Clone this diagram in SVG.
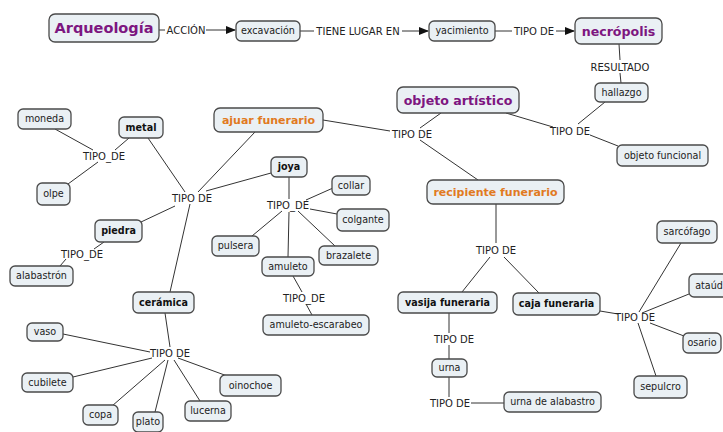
<svg xmlns="http://www.w3.org/2000/svg" width="723" height="432" viewBox="0 0 723 432">
<defs>
<marker id="arr" markerWidth="10" markerHeight="8" refX="9" refY="4" orient="auto" markerUnits="userSpaceOnUse">
<path d="M0,0 L10,4 L0,8 Z" fill="#111"/>
</marker>
<style>
.n rect{fill:#eaf0f4;stroke:#4a4a4a;stroke-width:1.3}
.n text{font-family:"DejaVu Sans",Verdana,sans-serif;font-size:9.6px;fill:#222;text-anchor:middle}
.n text.b{font-weight:bold;fill:#111}
.n text.p{font-weight:bold;fill:#7d1680;font-size:12.6px}
.n text.o{font-weight:bold;fill:#e17a1f;font-size:11px}
.c line{stroke:#333;stroke-width:1}
.c text{font-family:"DejaVu Sans",Verdana,sans-serif;font-size:10px;fill:#222;text-anchor:middle}
</style>
</defs>
<rect width="723" height="432" fill="#fff"/>
<g class="c" id="connectors">
<line x1="159" y1="30" x2="165" y2="30"/><line x1="206" y1="30" x2="235" y2="30" marker-end="url(#arr)"/>
<line x1="300" y1="31" x2="314" y2="31"/><line x1="402" y1="31" x2="428" y2="31" marker-end="url(#arr)"/>
<line x1="495" y1="31" x2="512" y2="31"/><line x1="556" y1="31" x2="574" y2="31" marker-end="url(#arr)"/>
<line x1="619" y1="44" x2="620" y2="60"/><line x1="620" y1="73" x2="621" y2="83"/>
<line x1="605" y1="102" x2="578" y2="124"/>
<line x1="506" y1="113" x2="553" y2="127"/>
<line x1="590" y1="135" x2="618" y2="146"/>
<line x1="323" y1="120" x2="390" y2="131"/>
<line x1="441" y1="113" x2="420" y2="128"/>
<line x1="420" y1="140" x2="478" y2="180"/>
<line x1="496" y1="204" x2="496" y2="243"/>
<line x1="490" y1="257" x2="462" y2="292"/>
<line x1="504" y1="257" x2="539" y2="293"/>
<line x1="449" y1="313" x2="449" y2="333"/>
<line x1="449" y1="345" x2="449" y2="359"/>
<line x1="449" y1="377" x2="449" y2="397"/>
<line x1="471" y1="403" x2="504" y2="403"/>
<line x1="600" y1="311" x2="618" y2="314"/>
<line x1="639" y1="312" x2="681" y2="243"/>
<line x1="642" y1="313" x2="689" y2="294"/>
<line x1="650" y1="323" x2="684" y2="336"/>
<line x1="638" y1="323" x2="656" y2="376"/>
<line x1="55" y1="129" x2="93" y2="150"/>
<line x1="129" y1="138" x2="115" y2="150"/>
<line x1="98" y1="162" x2="68" y2="184"/>
<line x1="148" y1="138" x2="185" y2="192"/>
<line x1="255" y1="132" x2="198" y2="192"/>
<line x1="271" y1="173" x2="206" y2="191"/>
<line x1="175" y1="206" x2="141" y2="222"/>
<line x1="190" y1="204" x2="170" y2="292"/>
<line x1="104" y1="242" x2="94" y2="249"/>
<line x1="66" y1="259" x2="60" y2="266"/>
<line x1="289" y1="177" x2="289" y2="199"/>
<line x1="306" y1="200" x2="333" y2="188"/>
<line x1="310" y1="209" x2="337" y2="214"/>
<line x1="298" y1="211" x2="335" y2="246"/>
<line x1="282" y1="211" x2="252" y2="236"/>
<line x1="289" y1="212" x2="288" y2="257"/>
<line x1="293" y1="276" x2="302" y2="292"/>
<line x1="306" y1="304" x2="312" y2="315"/>
<line x1="165" y1="313" x2="170" y2="347"/>
<line x1="63" y1="334" x2="150" y2="352"/>
<line x1="73" y1="377" x2="152" y2="358"/>
<line x1="112" y1="406" x2="165" y2="360"/>
<line x1="155" y1="412" x2="168" y2="360"/>
<line x1="200" y1="401" x2="174" y2="360"/>
<line x1="178" y1="358" x2="230" y2="377"/>
<text x="186" y="33.5">ACCIÓN</text>
<text x="358" y="34.5">TIENE LUGAR EN</text>
<text x="534" y="34.5">TIPO DE</text>
<text x="620" y="70.5">RESULTADO</text>
<text x="570" y="134.5">TIPO DE</text>
<text x="412" y="137.5">TIPO DE</text>
<text x="104" y="159.5">TIPO_DE</text>
<text x="192" y="201.5">TIPO DE</text>
<text x="82" y="257.5">TIPO_DE</text>
<text x="288" y="208.5">TIPO_DE</text>
<text x="304" y="301.5">TIPO_DE</text>
<text x="170" y="356.5">TIPO DE</text>
<text x="496" y="253.5">TIPO DE</text>
<text x="454" y="342.5">TIPO DE</text>
<text x="450" y="406.5">TIPO DE</text>
<text x="635" y="320.5">TIPO DE</text>
</g>
<g class="n" id="arqueologia"><rect x="49" y="14" width="110" height="28" rx="6"/><text class="p" x="104" y="33.2" style="font-size:14.5px">Arqueología</text></g>
<g class="n" id="excavacion"><rect x="236" y="21" width="64" height="20" rx="5"/><text x="268" y="34.4">excavación</text></g>
<g class="n" id="yacimiento"><rect x="429" y="21" width="66" height="20" rx="5"/><text x="462" y="34.4">yacimiento</text></g>
<g class="n" id="necropolis"><rect x="575" y="18" width="87" height="26" rx="6"/><text class="p" x="618.5" y="35.5">necrópolis</text></g>
<g class="n" id="hallazgo"><rect x="595" y="83" width="53" height="19" rx="5"/><text x="621.5" y="95.9">hallazgo</text></g>
<g class="n" id="objeto-artistico"><rect x="397" y="87" width="122" height="26" rx="6"/><text class="p" x="458" y="104.5">objeto artístico</text></g>
<g class="n" id="objeto-funcional"><rect x="617" y="145" width="91" height="21" rx="5"/><text x="662.5" y="158.9">objeto funcional</text></g>
<g class="n" id="ajuar-funerario"><rect x="214" y="108" width="109" height="24" rx="6"/><text class="o" x="268.5" y="123.9">ajuar funerario</text></g>
<g class="n" id="recipiente-funerario"><rect x="427" y="180" width="137" height="24" rx="6"/><text class="o" x="495.5" y="195.9">recipiente funerario</text></g>
<g class="n" id="moneda"><rect x="18" y="109" width="53" height="20" rx="5"/><text x="44.5" y="122.4">moneda</text></g>
<g class="n" id="metal"><rect x="119" y="117" width="44" height="21" rx="5"/><text class="b" x="141" y="130.9">metal</text></g>
<g class="n" id="olpe"><rect x="37" y="183" width="33" height="22" rx="5"/><text x="53.5" y="197.4">olpe</text></g>
<g class="n" id="piedra"><rect x="95" y="220" width="47" height="22" rx="5"/><text class="b" x="118.5" y="234.4">piedra</text></g>
<g class="n" id="alabastron"><rect x="10" y="266" width="63" height="20" rx="5"/><text x="41.5" y="279.4">alabastrón</text></g>
<g class="n" id="joya"><rect x="271" y="157" width="36" height="20" rx="5"/><text class="b" x="289" y="170.4">joya</text></g>
<g class="n" id="collar"><rect x="332" y="176" width="38" height="19" rx="5"/><text x="351" y="188.9">collar</text></g>
<g class="n" id="colgante"><rect x="337" y="209" width="52" height="22" rx="5"/><text x="363" y="223.4">colgante</text></g>
<g class="n" id="brazalete"><rect x="319" y="246" width="59" height="19" rx="5"/><text x="348.5" y="258.9">brazalete</text></g>
<g class="n" id="pulsera"><rect x="212" y="236" width="47" height="20" rx="5"/><text x="235.5" y="249.4">pulsera</text></g>
<g class="n" id="amuleto"><rect x="262" y="257" width="52" height="19" rx="5"/><text x="288" y="269.9">amuleto</text></g>
<g class="n" id="amuleto-escarabeo"><rect x="263" y="315" width="106" height="20" rx="5"/><text x="316" y="328.4">amuleto-escarabeo</text></g>
<g class="n" id="ceramica"><rect x="133" y="292" width="61" height="21" rx="5"/><text class="b" x="163.5" y="305.9">cerámica</text></g>
<g class="n" id="vaso"><rect x="27" y="323" width="36" height="18" rx="5"/><text x="45" y="335.4">vaso</text></g>
<g class="n" id="cubilete"><rect x="22" y="373" width="51" height="19" rx="5"/><text x="47.5" y="385.9">cubilete</text></g>
<g class="n" id="copa"><rect x="83" y="405" width="35" height="20" rx="5"/><text x="100.5" y="418.4">copa</text></g>
<g class="n" id="plato"><rect x="133" y="412" width="30" height="20" rx="5"/><text x="148" y="425.4">plato</text></g>
<g class="n" id="lucerna"><rect x="185" y="401" width="46" height="20" rx="5"/><text x="208" y="414.4">lucerna</text></g>
<g class="n" id="oinochoe"><rect x="220" y="375" width="61" height="21" rx="5"/><text x="250.5" y="388.9">oinochoe</text></g>
<g class="n" id="vasija-funeraria"><rect x="398" y="292" width="99" height="21" rx="5"/><text class="b" x="447.5" y="305.9">vasija funeraria</text></g>
<g class="n" id="caja-funeraria"><rect x="513" y="293" width="87" height="22" rx="5"/><text class="b" x="556.5" y="307.4">caja funeraria</text></g>
<g class="n" id="urna"><rect x="432" y="359" width="35" height="18" rx="5"/><text x="449.5" y="371.4">urna</text></g>
<g class="n" id="urna-de-alabastro"><rect x="504" y="392" width="97" height="20" rx="5"/><text x="552.5" y="405.4">urna de alabastro</text></g>
<g class="n" id="sarcofago"><rect x="657" y="221" width="60" height="22" rx="5"/><text x="687" y="235.4">sarcófago</text></g>
<g class="n" id="ataud"><rect x="689" y="274" width="50" height="23" rx="5"/><text x="709" y="288.9">ataúd</text></g>
<g class="n" id="osario"><rect x="683" y="333" width="38" height="20" rx="5"/><text x="702" y="346.4">osario</text></g>
<g class="n" id="sepulcro"><rect x="634" y="376" width="53" height="22" rx="5"/><text x="660.5" y="390.4">sepulcro</text></g>
</svg>
